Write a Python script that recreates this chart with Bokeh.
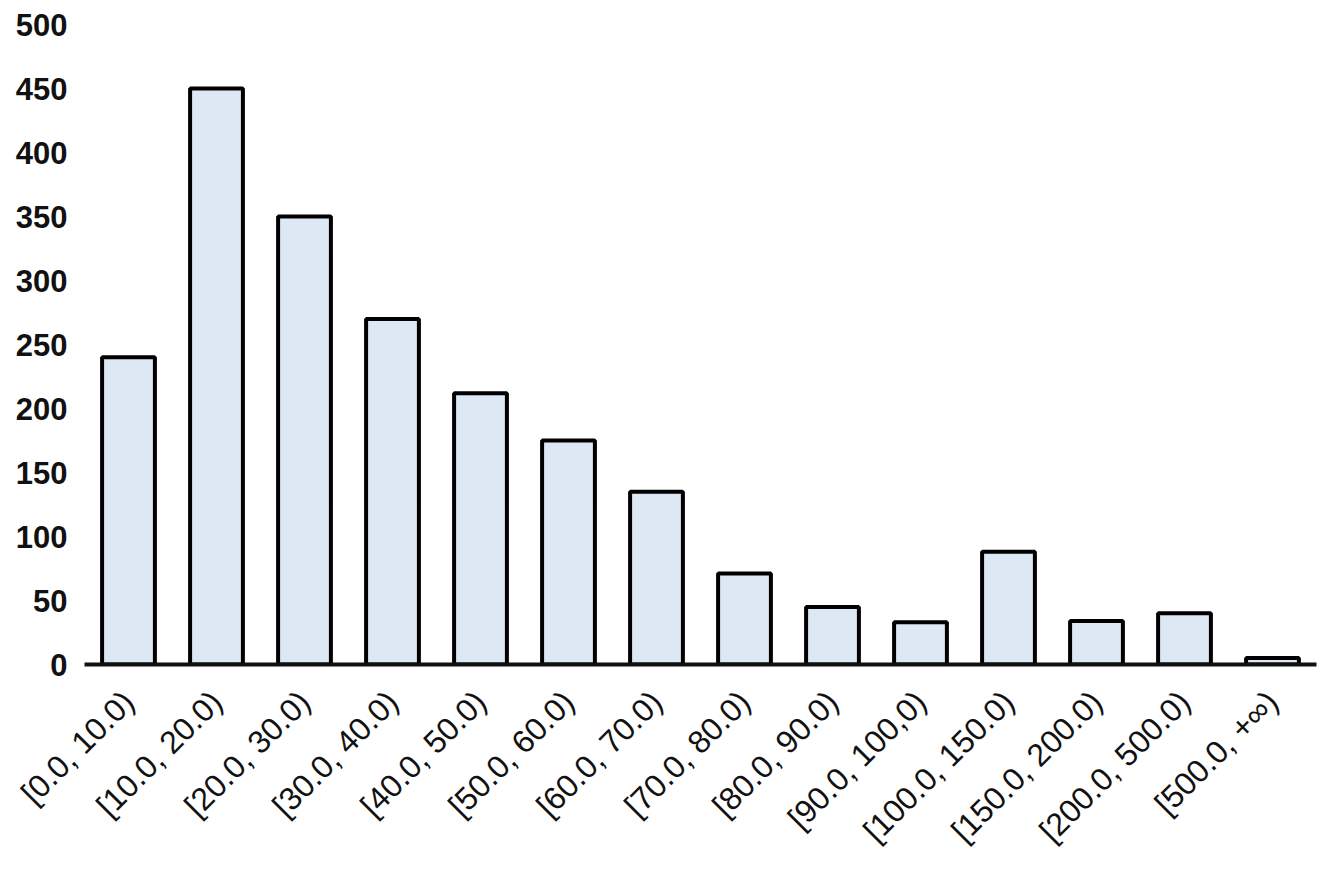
import math
from bokeh.plotting import figure
from bokeh.models import Range1d, FixedTicker, ColumnDataSource
from bokeh.embed import file_html
from bokeh.resources import INLINE

categories = ["[0.0, 10.0)", "[10.0, 20.0)", "[20.0, 30.0)", "[30.0, 40.0)",
              "[40.0, 50.0)", "[50.0, 60.0)", "[60.0, 70.0)", "[70.0, 80.0)",
              "[80.0, 90.0)", "[90.0, 100,0)", "[100.0, 150.0)", "[150.0, 200.0)",
              "[200.0, 500.0)", "[500.0, +\u221e)"]
counts = [240, 450, 350, 270, 212, 175, 135, 71, 45, 33, 88, 34, 40, 5]
y_ticks = [0, 50, 100, 150, 200, 250, 300, 350, 400, 450, 500]

source = ColumnDataSource(data=dict(cat=categories, count=counts))

p = figure(x_range=categories, y_range=Range1d(0, 500),
           width=1320, height=870, output_backend="svg", toolbar_location=None,
           min_border_left=84, min_border_right=4, min_border_top=24,
           min_border_bottom=206)
p.x_range.range_padding = 0

p.vbar(x="cat", top="count", bottom=0, width=0.6, source=source,
       fill_color="#dde8f4", line_color="#000000", line_width=4)

p.outline_line_color = None
p.grid.grid_line_color = None

p.yaxis.ticker = FixedTicker(ticks=y_ticks)
p.yaxis.axis_line_color = None
p.yaxis.major_tick_line_color = None
p.yaxis.minor_tick_line_color = None
p.yaxis.major_tick_out = 0
p.yaxis.major_tick_in = 0
p.yaxis.major_label_standoff = 17
p.yaxis.major_label_text_font = "Liberation Sans"
p.yaxis.major_label_text_font_style = "bold"
p.yaxis.major_label_text_font_size = "31px"
p.yaxis.major_label_text_color = "#111111"

p.xaxis.axis_line_color = "#111111"
p.xaxis.axis_line_width = 4
p.xaxis.major_tick_line_color = None
p.xaxis.minor_tick_line_color = None
p.xaxis.major_tick_out = 0
p.xaxis.major_tick_in = 0
p.xaxis.major_label_orientation = math.pi / 4
p.xaxis.major_label_standoff = 32
p.xaxis.major_label_text_font = "Liberation Sans"
p.xaxis.major_label_text_font_size = "32px"
p.xaxis.major_label_text_color = "#111111"

open("out.html", "w").write(file_html(p, INLINE))
